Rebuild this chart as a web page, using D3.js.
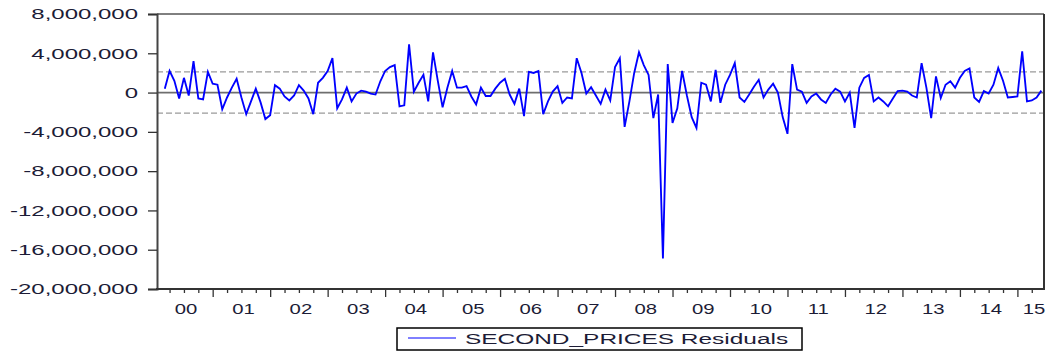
<!DOCTYPE html>
<html>
<head>
<meta charset="utf-8">
<script src="https://cdn.jsdelivr.net/npm/d3@7"></script>
<style>
  body { margin: 0; background: #fff; }
  svg { display: block; }
  text { font-family: "Liberation Sans", Arial, sans-serif; fill: #1c1c36; }
</style>
</head>
<body>
<svg id="chart" width="1053" height="352"></svg>
<script>
// Monthly residuals, first observation 2000M03 (month index 2 counted from 2000M01)
const firstMonth = 2;
const residuals = [
  400000, 2200000, 1200000, -600000, 1500000, -300000, 3200000, -600000, -700000, 2100000,
  900000, 800000, -1700000, -500000, 500000, 1400000, -500000, -2200000, -900000, 400000,
  -1000000, -2700000, -2300000, 750000, 400000, -400000, -800000, -300000, 750000, 200000,
  -600000, -2200000, 1000000, 1500000, 2200000, 3500000, -1600000, -700000, 500000, -900000,
  -100000, 200000, 100000, -100000, -200000, 1150000, 2200000, 2600000, 2800000, -1400000,
  -1300000, 4900000, 100000, 1000000, 1800000, -900000, 4100000, 1200000, -1500000, 500000,
  2200000, 500000, 500000, 650000, -400000, -1200000, 500000, -350000, -350000, 400000,
  1000000, 1400000, -200000, -1150000, 400000, -2400000, 2100000, 2000000, 2200000, -2200000,
  -900000, 100000, 650000, -1050000, -500000, -600000, 3500000, 2000000, -100000, 550000,
  -300000, -1150000, 300000, -800000, 2600000, 3500000, -3500000, -900000, 2000000, 4100000,
  2800000, 1800000, -2600000, -200000, -16900000, 2900000, -3100000, -1600000, 2200000, -300000,
  -2500000, -3600000, 1000000, 800000, -900000, 2300000, -1050000, 800000, 1800000, 3000000,
  -500000, -950000, -200000, 600000, 1300000, -500000, 300000, 900000, 0, -2500000,
  -4200000, 2900000, 300000, 100000, -1050000, -400000, -100000, -700000, -1050000, -200000,
  400000, 100000, -900000, 0, -3600000, 500000, 1500000, 1800000, -900000, -500000,
  -900000, -1400000, -600000, 150000, 200000, 100000, -300000, -500000, 3000000, 500000,
  -2600000, 1650000, -550000, 800000, 1150000, 500000, 1500000, 2200000, 2450000, -500000,
  -950000, 150000, -100000, 800000, 2500000, 1200000, -500000, -450000, -400000, 4200000,
  -900000, -800000, -500000, 200000
];
const yearLabels = ["00","01","02","03","04","05","06","07","08","09","10","11","12","13","14","15"];
const yTicks = [8000000, 4000000, 0, -4000000, -8000000, -12000000, -16000000, -20000000];
const bandLevel = 2100000;
const seriesName = "SECOND_PRICES Residuals";

const svg = d3.select("#chart");
const plot = { left: 157, right: 1044, top: 14, bottom: 289 };

// month index scale (0 = 2000M01)
const x = d3.scaleLinear().domain([0, 186]).range([155.2, 155.2 + 186 * 4.79]);
const y = d3.scaleLinear().domain([-20000000, 8000000]).range([plot.bottom, plot.top]);

const SXY = 1.6, SXX = 1.45, SXL = 1.63;

// reference lines
svg.append("line")
  .attr("x1", plot.left).attr("x2", plot.right)
  .attr("y1", y(0)).attr("y2", y(0))
  .attr("stroke", "#6e6e6e").attr("stroke-width", 1.8);
[bandLevel, -bandLevel].forEach(v => {
  svg.append("line")
    .attr("x1", plot.left).attr("x2", plot.right)
    .attr("y1", y(v)).attr("y2", y(v))
    .attr("stroke", "#9a9a9a").attr("stroke-width", 1.3)
    .attr("stroke-dasharray", "6,3");
});

// residual series
const pts = residuals.map((v, k) => [firstMonth + k, v]);
svg.append("path")
  .datum(pts)
  .attr("fill", "none")
  .attr("stroke", "#0000ff")
  .attr("stroke-width", 1.85)
  .attr("stroke-linejoin", "miter")
  .attr("d", d3.line().x(d => x(d[0])).y(d => y(d[1])));

// frame: top and right
svg.append("line").attr("x1", plot.left).attr("x2", plot.right)
  .attr("y1", plot.top).attr("y2", plot.top).attr("stroke", "#000").attr("stroke-width", 1);
svg.append("line").attr("x1", plot.right).attr("x2", plot.right)
  .attr("y1", plot.top).attr("y2", plot.bottom).attr("stroke", "#333").attr("stroke-width", 2);

// left axis
const fmt = d => d3.format(",")(d).replace("\u2212", "-");
const gy = svg.append("g")
  .attr("transform", `translate(${plot.left},0)`)
  .call(d3.axisLeft(y).tickValues(yTicks).tickFormat(fmt).tickSize(9).tickPadding(19));
gy.select(".domain").attr("stroke", "#444").attr("stroke-width", 2);
gy.selectAll(".tick line").attr("stroke", "#333").attr("stroke-width", 1.3);
gy.selectAll(".tick text")
  .attr("x", -19 / SXY)
  .attr("transform", `scale(${SXY},1)`)
  .style("font-size", "15px")
  .attr("fill", "#1c1c36");

// bottom axis: quarterly ticks, longer at year boundaries
const quarterTicks = d3.range(3, 186, 3);
const gx = svg.append("g")
  .attr("transform", `translate(0,${plot.bottom})`)
  .call(d3.axisBottom(x).tickValues(quarterTicks).tickFormat(() => "").tickSize(4));
gx.select(".domain").remove();
gx.selectAll(".tick line")
  .attr("stroke", "#333").attr("stroke-width", 1.3)
  .attr("y2", d => d % 12 === 0 ? 8 : 4);
svg.append("line").attr("x1", plot.left - 1).attr("x2", plot.right + 1)
  .attr("y1", plot.bottom).attr("y2", plot.bottom).attr("stroke", "#333").attr("stroke-width", 2);

yearLabels.forEach((lab, k) => {
  const cx = Math.min(x(12 * k + 6) + 2, plot.right - 10);
  svg.append("text")
    .attr("transform", `translate(${cx},313.5) scale(${SXX},1)`)
    .attr("text-anchor", "middle")
    .style("font-size", "14px")
    .text(lab);
});

// legend
const lg = svg.append("g");
lg.append("rect").attr("x", 397).attr("y", 328).attr("width", 405).attr("height", 22)
  .attr("fill", "#fff").attr("stroke", "#000").attr("stroke-width", 1.5);
lg.append("line").attr("x1", 408).attr("x2", 456).attr("y1", 338).attr("y2", 338)
  .attr("stroke", "#0000ff").attr("stroke-width", 1);
lg.append("text")
  .attr("transform", `translate(465,344) scale(${SXL},1)`)
  .style("font-size", "15px")
  .text(seriesName);
</script>
</body>
</html>
